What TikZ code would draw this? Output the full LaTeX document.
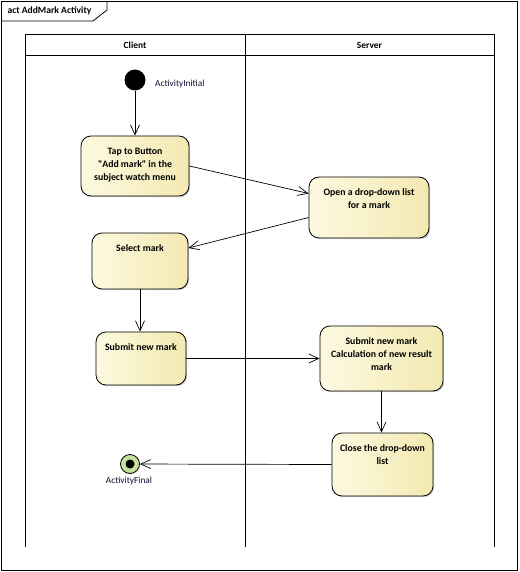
\documentclass[tikz,border=0pt]{standalone}
\usepackage{fontspec}
\newfontfamily\eafont{Carlito}
\usetikzlibrary{arrows.meta,shadows}
\definecolor{actleft}{RGB}{253,249,224}
\definecolor{actright}{RGB}{243,233,178}
\definecolor{finalgreen}{RGB}{196,223,160}
\definecolor{labelblue}{RGB}{12,16,48}
\tikzset{
	action/.style={draw=black,line width=0.8pt,rounded corners=10pt,left color=actleft,right color=actright,
		drop shadow={shadow xshift=1.2pt,shadow yshift=-1.2pt,opacity=0.35},inner sep=0pt},
	actext/.style={anchor=north,yshift=-12pt,align=center,font=\eafont\bfseries\fontsize{9.8}{13}\selectfont,inner sep=0pt},
	flow/.style={line width=0.7pt,-{Straight Barb[length=10pt,width=9pt,line width=0.7pt]}},
	lane/.style={font=\eafont\bfseries\fontsize{9.4}{10}\selectfont},
	tag/.style={font=\eafont\fontsize{9.3}{10}\selectfont,text=labelblue,inner sep=0pt}
}
\begin{document}
\begin{tikzpicture}[x=1pt,y=-1pt]
			\useasboundingbox (0,0) rectangle (519,572);
			\fill[white] (0,0) rectangle (519,572);
			
			\draw[line width=0.8pt] (1,1) rectangle (517,570);
			\draw[line width=0.8pt] (1,21) -- (93,21) -- (107,10) -- (107,1);
			\node[anchor=west,font=\eafont\bfseries\fontsize{9.6}{10}\selectfont] (title) at (4,11) {act AddMark Activity};
			
			\draw[line width=0.7pt] (25,547) -- (25,34) -- (494,34) -- (494,547);
			\draw[line width=0.7pt] (25,55) -- (494,55);
			\draw[line width=0.7pt] (245,34) -- (245,547);
			\node[lane] (client) at (135,45) {Client};
			\node[lane] (server) at (369.5,45) {Server};
			
			\node[circle,fill=black,minimum size=21pt,inner sep=0pt] (init) at (135,80) {};
			\node[tag,anchor=west] (initlbl) at (155,84) {ActivityInitial};
			
			\node[action,minimum width=108pt,minimum height=60pt,
				label={[actext]north:{Tap to Button\\"Add mark" in the\\subject watch menu}}] (tap) at (135,166) {};
			\node[action,minimum width=120pt,minimum height=61pt,
				label={[actext]north:{Open a drop-down list\\for a mark}}] (open) at (369,207.5) {};
			\node[action,minimum width=96pt,minimum height=56pt,
				label={[actext]north:{Select mark}}] (select) at (140,261) {};
			\node[action,minimum width=90pt,minimum height=53pt,
				label={[actext]north:{Submit new mark}}] (submit) at (141,358.5) {};
			\node[action,minimum width=123pt,minimum height=65pt,
				label={[actext]north:{Submit new mark\\Calculation of new result\\mark}}] (calc) at (381.5,358.5) {};
			\node[action,minimum width=101pt,minimum height=63pt,
				label={[actext]north:{Close the drop-down\\list}}] (close) at (382.5,464.5) {};
			
			\node[circle,draw=black,line width=0.8pt,fill=finalgreen,minimum size=19pt,inner sep=0pt,
				path picture={\fill[black] (path picture bounding box.center) circle (4.5pt);}] (final) at (130,464) {};
			\node[tag,anchor=north] (finallbl) at (129,477) {ActivityFinal};
			
			\draw[flow] (init) -- (init |- tap.north);
			\draw[flow] (tap.east) -- ([yshift=14pt]open.west);
			\draw[flow] ([yshift=-10pt]open.west) -- ([yshift=13pt]select.east);
			\draw[flow] (select.south) -- (select.south |- submit.north);
			\draw[flow] (submit.east) -- (submit.east -| calc.west);
			\draw[flow] (calc.south) -- (calc.south |- close.north);
			\draw[flow] (close.west) -- (final);
		\end{tikzpicture}
\end{document}
